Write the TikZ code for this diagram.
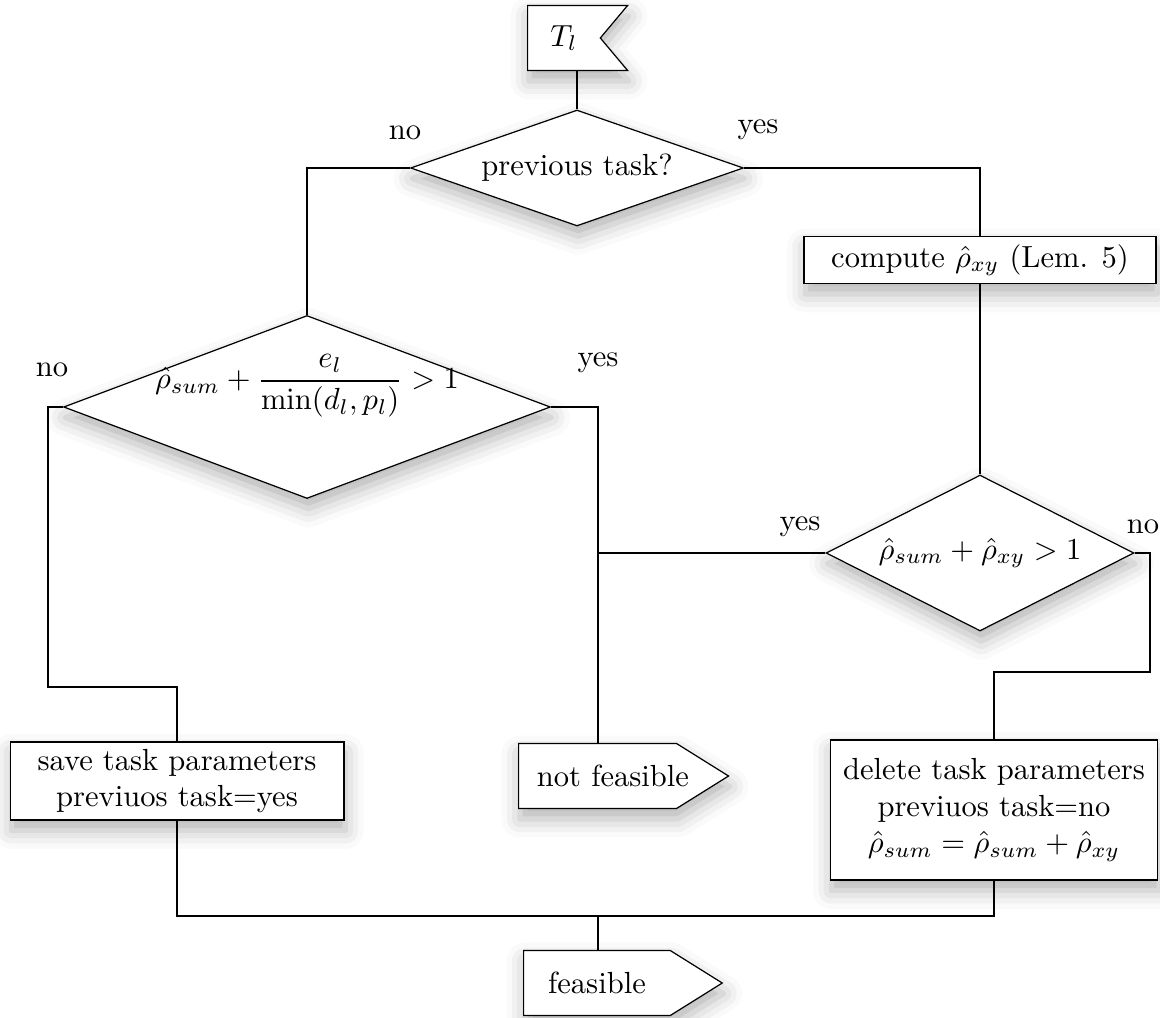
\documentclass[tikz,border=0pt]{standalone}
\usepackage{amssymb}
\usepackage{amsmath}
\usepackage{tikz}
\usetikzlibrary{shapes.geometric,shapes.symbols,shadows.blur}

\begin{document}
\begin{tikzpicture}[x=0.0115cm,y=-0.0115cm,
    shad/.style={fill=white,blur shadow={shadow xshift=0.1ex,shadow yshift=-0.8ex,shadow blur radius=1.4ex,shadow opacity=30}},
    dec/.style={diamond,draw=black,shad,inner sep=0pt},
    blk/.style={rectangle,draw=black,shad,align=center,inner sep=2pt},
    sig/.style={signal,draw=black,shad,anchor=west,minimum height=0.7475cm}]

      \useasboundingbox (0,0) rectangle (1160,1018);

      % start
      \node[sig,signal from=east,signal to=nowhere,signal pointer angle=100,inner xsep=5pt,minimum width=1.15cm] (flag) at (527,38){$T_l$};

      % decisions
      \node[dec,aspect=2.87,minimum width=3.83cm,minimum height=1.334cm] (prev) at (577,168){previous task?};
      \node[dec,aspect=2.66,minimum width=5.6cm,minimum height=2.105cm,text height=2pt,text depth=14pt] (cond) at (307,407){$\displaystyle\hat{\rho}_{sum}+\frac{e_l}{\min(d_l,p_l)}>1$};
      \node[dec,aspect=1.97,minimum width=3.542cm,minimum height=1.794cm] (chk) at (980,553){$\hat{\rho}_{sum}+\hat{\rho}_{xy}>1$};

      % blocks
      \node[blk,minimum width=4.048cm,minimum height=0.54cm] (comp) at (980,260){compute $\hat{\rho}_{xy}$ (Lem. 5)};
      \node[blk,minimum width=3.84cm,minimum height=0.897cm] (save) at (177,781){save task parameters\\previuos task=yes};
      \node[blk,minimum width=3.77cm,minimum height=1.61cm] (del) at (994,810){delete task parameters\\previuos task=no\\$\hat{\rho}_{sum}=\hat{\rho}_{sum}+\hat{\rho}_{xy}$};

      % ends
      \node[sig,signal to=east,signal pointer angle=64,inner xsep=6pt] (notf) at (518,776){\makebox[39.7pt][l]{not feasible}};
      \node[sig,signal to=east,signal pointer angle=64,inner xsep=8pt] (feas) at (523,983){feasible};

      % answers
      \node (n1) at (405,133){no};
      \node (y1) at (758,130){yes};
      \node (n2) at (52,370){no};
      \node (y2) at (598,363){yes};
      \node (y3) at (800,527){yes};
      \node (n3) at (1143,527){no};

      \coordinate (c1) at (48,687);
      \coordinate (c2) at (1150,672);
      \coordinate (nf) at (598,743);
      \coordinate (fin) at (598,916);

      \draw (prev.north) -- (prev.north |- flag.south);
      \draw (prev.west) -| (cond.north);
      \draw (prev.east) -| (comp.north);
      \draw (comp.south) -- (chk.north);
      \draw (cond.west) -| (c1) -| (save.north);
      \draw (cond.east) -| (nf);
      \draw (chk.west) -- (chk.west -| nf);
      \draw (chk.east) -| (c2) -| (del.north);
      \draw (save.south) |- (fin) -| (del.south);
      \draw (fin) -- (fin |- feas.north);
    \end{tikzpicture}
\end{document}
